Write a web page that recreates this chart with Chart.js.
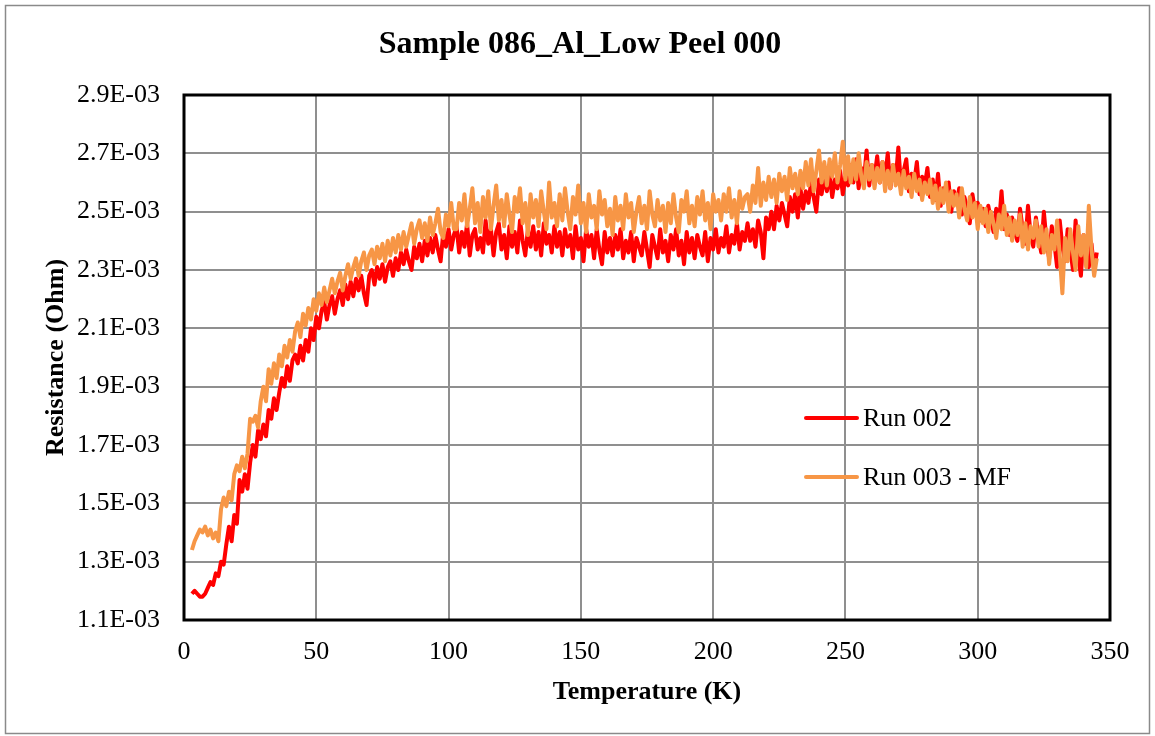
<!DOCTYPE html>
<html><head><meta charset="utf-8">
<script src="https://cdn.jsdelivr.net/npm/chart.js@4.4.1/dist/chart.umd.min.js"></script>
<style>html,body{margin:0;padding:0;background:#fff;}canvas{display:block;}</style>
</head><body>
<canvas id="c" width="1155" height="736"></canvas>
<script>
const chartTitle = 'Sample 086_Al_Low Peel 000';
const xTitle = 'Temperature (K)';
const yTitle = 'Resistance (Ohm)';
const seriesNames = ['Run 002', 'Run 003 - MF'];
const seriesColors = ['#FF0000', '#F79646'];
const xTicks = [0, 50, 100, 150, 200, 250, 300, 350];
// y values in milli-ohm; labels shown as x.xE-03
const yTicks = [1.1, 1.3, 1.5, 1.7, 1.9, 2.1, 2.3, 2.5, 2.7, 2.9];

const temps = [
3,4,5,6,7,8,9,10,11,12,
13,14,15,16,17,18,19,20,21,22,
23,24,25,26,27,28,29,30,31,32,
33,34,35,36,37,38,39,40,41,42,
43,44,45,46,47,48,49,50,51,52,
53,54,55,56,57,58,59,60,61,62,
63,64,65,66,67,68,69,70,71,72,
73,74,75,76,77,78,79,80,81,82,
83,84,85,86,87,88,89,90,91,92,
93,94,95,96,97,98,99,100,101,102,
103,104,105,106,107,108,109,110,111,112,
113,114,115,116,117,118,119,120,121,122,
123,124,125,126,127,128,129,130,131,132,
133,134,135,136,137,138,139,140,141,142,
143,144,145,146,147,148,149,150,151,152,
153,154,155,156,157,158,159,160,161,162,
163,164,165,166,167,168,169,170,171,172,
173,174,175,176,177,178,179,180,181,182,
183,184,185,186,187,188,189,190,191,192,
193,194,195,196,197,198,199,200,201,202,
203,204,205,206,207,208,209,210,211,212,
213,214,215,216,217,218,219,220,221,222,
223,224,225,226,227,228,229,230,231,232,
233,234,235,236,237,238,239,240,241,242,
243,244,245,246,247,248,249,250,251,252,
253,254,255,256,257,258,259,260,261,262,
263,264,265,266,267,268,269,270,271,272,
273,274,275,276,277,278,279,280,281,282,
283,284,285,286,287,288,289,290,291,292,
293,294,295,296,297,298,299,300,301,302,
303,304,305,306,307,308,309,310,311,312,
313,314,315,316,317,318,319,320,321,322,
323,324,325,326,327,328,329,330,331,332,
333,334,335,336,337,338,339,340,341,342,
343,344,345];

const run002 = [
1.19,1.20,1.19,1.18,1.18,1.19,1.21,1.23,1.22,1.26,
1.25,1.30,1.29,1.36,1.42,1.37,1.46,1.43,1.58,1.54,
1.60,1.55,1.64,1.70,1.66,1.75,1.72,1.77,1.73,1.82,
1.79,1.86,1.82,1.88,1.93,1.90,1.97,1.92,1.99,2.01,
1.98,2.04,1.99,2.06,2.02,2.10,2.06,2.14,2.10,2.16,
2.19,2.13,2.18,2.21,2.15,2.20,2.23,2.18,2.25,2.20,
2.26,2.21,2.27,2.23,2.28,2.22,2.18,2.28,2.30,2.25,
2.31,2.27,2.32,2.26,2.31,2.33,2.28,2.34,2.30,2.36,
2.32,2.37,2.33,2.30,2.38,2.34,2.39,2.33,2.40,2.35,
2.41,2.36,2.42,2.37,2.33,2.43,2.38,2.44,2.37,2.42,
2.45,2.36,2.43,2.38,2.46,2.35,2.42,2.44,2.37,2.41,
2.36,2.47,2.39,2.44,2.35,2.43,2.46,2.37,2.42,2.34,
2.45,2.38,2.43,2.36,2.47,2.40,2.35,2.44,2.38,2.45,
2.37,2.43,2.35,2.46,2.39,2.42,2.36,2.45,2.38,2.43,
2.35,2.44,2.38,2.42,2.34,2.45,2.37,2.41,2.33,2.44,
2.38,2.42,2.34,2.44,2.37,2.32,2.43,2.36,2.41,2.35,
2.42,2.37,2.44,2.34,2.40,2.36,2.43,2.33,2.41,2.38,
2.35,2.43,2.37,2.31,2.42,2.38,2.34,2.44,2.36,2.40,
2.33,2.42,2.37,2.44,2.35,2.40,2.32,2.43,2.36,2.41,
2.34,2.42,2.38,2.35,2.43,2.33,2.41,2.37,2.44,2.36,
2.41,2.38,2.45,2.36,2.42,2.39,2.46,2.37,2.43,2.40,
2.46,2.40,2.44,2.38,2.47,2.43,2.34,2.48,2.44,2.50,
2.44,2.52,2.47,2.53,2.49,2.45,2.55,2.50,2.56,2.48,
2.58,2.51,2.57,2.53,2.60,2.55,2.50,2.61,2.56,2.62,
2.57,2.63,2.55,2.61,2.58,2.64,2.56,2.62,2.59,2.66,
2.60,2.68,2.58,2.65,2.61,2.71,2.59,2.66,2.62,2.69,
2.60,2.67,2.62,2.70,2.58,2.66,2.61,2.72,2.59,2.64,
2.68,2.57,2.63,2.60,2.67,2.56,2.62,2.59,2.65,2.55,
2.61,2.54,2.63,2.52,2.58,2.55,2.60,2.50,2.57,2.53,
2.58,2.49,2.55,2.51,2.46,2.56,2.50,2.53,2.47,2.51,
2.45,2.52,2.47,2.43,2.51,2.45,2.57,2.44,2.49,2.42,
2.48,2.43,2.40,2.51,2.44,2.39,2.52,2.42,2.38,2.48,
2.41,2.36,2.50,2.40,2.34,2.45,2.39,2.31,2.47,2.38,
2.33,2.44,2.37,2.30,2.47,2.35,2.28,2.42,2.34,2.31,
2.39,2.30,2.36];

const run003 = [
1.34,1.37,1.39,1.41,1.40,1.42,1.39,1.41,1.38,1.40,
1.37,1.48,1.52,1.49,1.54,1.51,1.60,1.63,1.61,1.66,
1.62,1.67,1.79,1.78,1.80,1.76,1.85,1.90,1.85,1.96,
1.91,1.98,1.93,2.01,1.97,2.04,2.00,2.06,2.02,2.09,
2.12,2.07,2.15,2.11,2.17,2.13,2.20,2.16,2.22,2.18,
2.24,2.19,2.23,2.27,2.22,2.26,2.29,2.23,2.28,2.32,
2.27,2.31,2.34,2.28,2.33,2.36,2.30,2.35,2.37,2.32,
2.38,2.34,2.39,2.33,2.40,2.35,2.41,2.36,2.42,2.37,
2.43,2.38,2.42,2.46,2.39,2.44,2.47,2.41,2.46,2.40,
2.48,2.42,2.46,2.51,2.43,2.41,2.49,2.45,2.53,2.44,
2.44,2.53,2.47,2.56,2.45,2.51,2.58,2.46,2.53,2.43,
2.55,2.48,2.57,2.44,2.52,2.59,2.47,2.54,2.45,2.56,
2.49,2.43,2.55,2.50,2.58,2.46,2.53,2.42,2.56,2.48,
2.54,2.45,2.57,2.50,2.44,2.60,2.48,2.53,2.45,2.56,
2.47,2.58,2.50,2.44,2.55,2.49,2.59,2.46,2.53,2.43,
2.56,2.48,2.52,2.44,2.57,2.49,2.54,2.45,2.51,2.42,
2.55,2.47,2.52,2.44,2.56,2.48,2.53,2.43,2.50,2.55,
2.46,2.52,2.44,2.57,2.49,2.45,2.54,2.47,2.52,2.43,
2.53,2.46,2.56,2.48,2.43,2.54,2.50,2.57,2.46,2.52,
2.45,2.55,2.49,2.57,2.47,2.53,2.44,2.56,2.50,2.54,
2.47,2.56,2.50,2.58,2.48,2.54,2.46,2.57,2.51,2.55,
2.56,2.50,2.59,2.53,2.65,2.52,2.60,2.54,2.62,2.55,
2.61,2.53,2.63,2.57,2.62,2.54,2.65,2.58,2.63,2.56,
2.64,2.58,2.67,2.59,2.68,2.57,2.64,2.71,2.60,2.67,
2.59,2.68,2.62,2.70,2.60,2.66,2.74,2.61,2.69,2.60,
2.68,2.61,2.70,2.62,2.58,2.67,2.61,2.66,2.58,2.65,
2.60,2.67,2.57,2.64,2.58,2.66,2.59,2.63,2.56,2.64,
2.58,2.62,2.55,2.63,2.57,2.61,2.54,2.60,2.56,2.61,
2.53,2.59,2.51,2.58,2.53,2.60,2.50,2.57,2.52,2.56,
2.48,2.58,2.51,2.47,2.55,2.48,2.53,2.44,2.52,2.46,
2.51,2.43,2.50,2.46,2.41,2.49,2.44,2.52,2.42,2.48,
2.40,2.47,2.42,2.49,2.38,2.46,2.37,2.45,2.41,2.47,
2.38,2.45,2.36,2.44,2.32,2.42,2.37,2.47,2.35,2.22,
2.41,2.33,2.44,2.36,2.30,2.45,2.35,2.42,2.31,2.52,
2.37,2.28,2.34];

const FONT = "'Liberation Serif', 'Times New Roman', serif";

function pts(ys) { return temps.map((t, i) => ({ x: t, y: ys[i] })); }

const framePlugin = {
  id: 'frame',
  beforeDraw(chart) {
    const ctx = chart.ctx;
    ctx.save();
    ctx.fillStyle = '#fff';
    ctx.fillRect(0, 0, chart.width, chart.height);
    ctx.strokeStyle = '#8a8a8a';
    ctx.lineWidth = 1.5;
    ctx.strokeRect(5.5, 5.5, 1144, 728);
    ctx.fillStyle = '#000';
    ctx.font = 'bold 32px ' + FONT;
    ctx.textAlign = 'center';
    ctx.textBaseline = 'middle';
    ctx.fillText(chartTitle, 580, 45);
    ctx.restore();
  },
  afterDraw(chart) {
    const ctx = chart.ctx, a = chart.chartArea;
    ctx.save();
    ctx.strokeStyle = '#000';
    ctx.lineWidth = 3;
    ctx.strokeRect(a.left, a.top, a.right - a.left, a.bottom - a.top);
    // legend
    const ly = [418, 477];
    ctx.font = '26px ' + FONT;
    ctx.textBaseline = 'middle';
    ctx.textAlign = 'left';
    seriesNames.forEach((n, i) => {
      ctx.strokeStyle = seriesColors[i];
      ctx.lineWidth = 4;
      ctx.lineCap = 'round';
      ctx.beginPath();
      ctx.moveTo(806, ly[i]);
      ctx.lineTo(857, ly[i]);
      ctx.stroke();
      ctx.fillStyle = '#000';
      ctx.fillText(n, 863, ly[i] + 1);
    });
    ctx.restore();
  }
};

new Chart(document.getElementById('c'), {
  type: 'line',
  data: {
    datasets: [
      { label: seriesNames[0], data: pts(run002), borderColor: seriesColors[0], borderWidth: 4, pointRadius: 0, tension: 0, order: 2, borderJoinStyle: 'round' },
      { label: seriesNames[1], data: pts(run003), borderColor: seriesColors[1], borderWidth: 4, pointRadius: 0, tension: 0, order: 1, borderJoinStyle: 'round' }
    ]
  },
  options: {
    responsive: false,
    animation: false,
    devicePixelRatio: 1,
    layout: { padding: { left: 0, right: 45, top: 95, bottom: 0 } },
    plugins: {
      legend: { display: false },
      tooltip: { enabled: false },
      title: { display: false }
    },
    scales: {
      x: {
        type: 'linear', min: 0, max: 350,
        afterFit: s => { s.height = 116; },
        afterBuildTicks: s => { s.ticks = xTicks.map(v => ({ value: v })); },
        grid: { color: '#8f8f8f', lineWidth: 2, drawTicks: false },
        border: { display: false },
        ticks: { color: '#000', font: { family: FONT, size: 26 }, padding: 17, maxRotation: 0, autoSkip: false },
        title: { display: true, text: xTitle, color: '#000', font: { family: FONT, size: 26, weight: 'bold' }, padding: { top: 0, bottom: 28 } }
      },
      y: {
        type: 'linear', min: 1.1, max: 2.9,
        afterFit: s => { s.width = 184; },
        afterBuildTicks: s => { s.ticks = yTicks.map(v => ({ value: v })); },
        grid: { color: '#8f8f8f', lineWidth: 2, drawTicks: false },
        border: { display: false },
        ticks: { color: '#000', font: { family: FONT, size: 26 }, padding: 24, autoSkip: false,
          callback: v => Number(v).toFixed(1) + 'E-03' },
        title: { display: true, text: yTitle, color: '#000', font: { family: FONT, size: 26, weight: 'bold' }, padding: { top: 41, bottom: 0 } }
      }
    }
  },
  plugins: [framePlugin]
});
</script>
</body></html>
